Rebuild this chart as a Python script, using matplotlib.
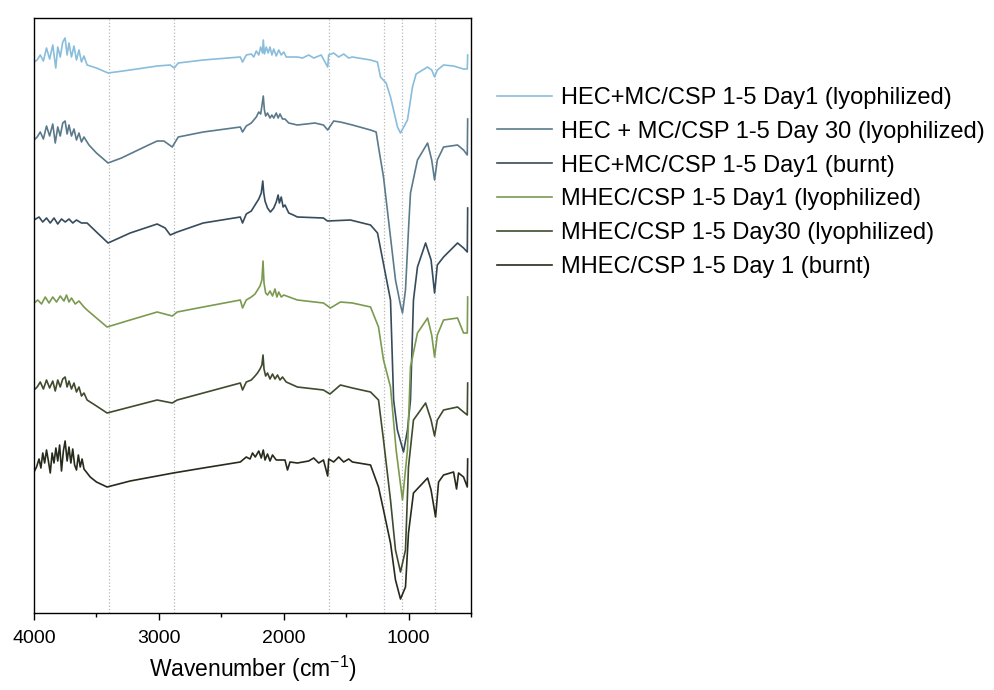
import matplotlib
matplotlib.use('Agg')
import matplotlib.pyplot as plt
from matplotlib.ticker import MultipleLocator

plt.rcParams['font.family'] = ['Liberation Sans', 'DejaVu Sans']
plt.rcParams['mathtext.fontset'] = 'custom'
plt.rcParams['mathtext.rm'] = 'Liberation Sans'
plt.rcParams['mathtext.default'] = 'regular'

# Спектри (хвильове число, інтенсивність зі зсувом, ум. од.)
labels = ['HEC+MC/CSP 1-5 Day1 (lyophilized)',
          'HEC + MC/CSP 1-5 Day 30 (lyophilized)',
          'HEC+MC/CSP 1-5 Day1 (burnt)',
          'MHEC/CSP 1-5 Day1 (lyophilized)',
          'MHEC/CSP 1-5 Day30 (lyophilized)',
          'MHEC/CSP 1-5 Day 1 (burnt)']
colors = ['#88bddc', '#5a7a8c', '#364b5b', '#7b9a50', '#3f4b2c', '#262b1b']

wn_1 = [4000, 3975, 3950, 3925, 3900, 3875, 3850, 3826, 3810, 3790, 3770, 3751, 3735, 3720, 3700,
        3680, 3660, 3640, 3620, 3600, 3575, 3500, 3407, 3230, 3014, 2909, 2877, 2845, 2645, 2348,
        2330, 2300, 2260, 2240, 2220, 2200, 2185, 2170, 2164, 2155, 2140, 2125, 2110, 2095, 2080,
        2060, 2040, 2020, 2000, 1980, 1891, 1850, 1800, 1760, 1700, 1648, 1640, 1600, 1560, 1520,
        1480, 1450, 1305, 1250, 1225, 1180, 1145, 1089, 1065, 1009, 969, 940, 848, 815, 792,
        770, 720, 640, 560, 530, 527]
t_1 = [551, 553, 558, 552, 565, 554, 568, 545, 566, 556, 571, 575, 558, 570, 556,
       567, 553, 563, 551, 557, 548, 545, 540, 543, 547, 548, 545, 550, 553, 556,
       551, 558, 559, 556, 562, 558, 566, 560, 573, 559, 566, 560, 566, 558, 564,
       557, 563, 558, 561, 556, 556, 555, 558, 555, 558, 546, 558, 560, 556, 559,
       555, 556, 553, 551, 536, 530, 516, 486, 480, 493, 526, 539, 546, 543, 536,
       543, 548, 547, 544, 544, 558]

wn_2 = [4000, 3975, 3950, 3925, 3900, 3875, 3850, 3830, 3810, 3790, 3770, 3751, 3735, 3720, 3700,
        3680, 3660, 3640, 3620, 3600, 3560, 3500, 3407, 3300, 3200, 3100, 3014, 2960, 2893, 2845,
        2645, 2348, 2330, 2300, 2260, 2240, 2220, 2200, 2185, 2175, 2164, 2155, 2145, 2130, 2110,
        2095, 2080, 2060, 2045, 2030, 2010, 1990, 1960, 1891, 1750, 1682, 1648, 1600, 1546, 1450,
        1305, 1260, 1241, 1201, 1161, 1105, 1065, 1049, 1025, 1001, 985, 929, 848, 815, 792,
        770, 720, 608, 560, 530, 527]
t_2 = [473, 476, 481, 474, 487, 477, 489, 470, 486, 477, 490, 492, 479, 488, 477,
       484, 473, 480, 471, 476, 468, 460, 450, 455, 461, 467, 472, 472, 466, 476,
       481, 486, 481, 487, 490, 493, 496, 501, 499, 507, 517, 503, 497, 500, 495,
       498, 495, 500, 495, 499, 494, 494, 490, 488, 490, 488, 483, 492, 491, 488,
       483, 481, 466, 436, 393, 333, 308, 300, 323, 383, 420, 453, 470, 453, 433,
       453, 466, 468, 463, 458, 494]

wn_3 = [4000, 3960, 3930, 3900, 3870, 3840, 3810, 3780, 3750, 3720, 3690, 3660, 3620, 3575, 3500,
        3407, 3230, 3014, 2950, 2909, 2853, 2645, 2348, 2330, 2300, 2260, 2230, 2200, 2180, 2168,
        2160, 2150, 2130, 2107, 2080, 2060, 2045, 2035, 2020, 2005, 1990, 1960, 1923, 1891, 1682,
        1650, 1466, 1305, 1249, 1145, 1120, 1090, 1041, 1009, 985, 961, 929, 864, 820, 792,
        770, 720, 608, 560, 530, 527]
t_3 = [393, 396, 391, 395, 390, 395, 389, 394, 391, 394, 390, 393, 390, 390, 381,
       370, 380, 389, 385, 378, 381, 390, 396, 390, 399, 402, 408, 414, 420, 432,
       420, 412, 405, 401, 405, 411, 418, 410, 416, 406, 408, 400, 398, 396, 395,
       392, 393, 388, 380, 313, 213, 183, 161, 183, 213, 313, 346, 370, 353, 320,
       348, 356, 370, 365, 361, 405]

wn_4 = [4000, 3970, 3940, 3910, 3880, 3850, 3820, 3790, 3760, 3740, 3720, 3700, 3670, 3640, 3600,
        3575, 3500, 3415, 3230, 3014, 2893, 2853, 2645, 2348, 2330, 2300, 2260, 2230, 2210, 2190,
        2175, 2166, 2158, 2145, 2130, 2110, 2090, 2070, 2055, 2040, 2020, 2000, 1891, 1682, 1626,
        1546, 1450, 1305, 1241, 1201, 1145, 1100, 1049, 1009, 985, 929, 848, 815, 792, 770,
        720, 608, 560, 530, 527]
t_4 = [310, 313, 309, 316, 310, 316, 311, 317, 312, 318, 311, 315, 309, 312, 306,
       303, 295, 286, 293, 301, 297, 301, 306, 313, 305, 313, 316, 319, 323, 327,
       333, 352, 330, 320, 318, 322, 317, 324, 316, 321, 316, 318, 313, 310, 305,
       311, 310, 306, 286, 253, 226, 163, 113, 163, 246, 280, 295, 278, 256, 278,
       293, 295, 280, 280, 316]

wn_5 = [4000, 3975, 3950, 3925, 3900, 3875, 3850, 3830, 3810, 3790, 3770, 3751, 3735, 3720, 3700,
        3680, 3660, 3640, 3620, 3600, 3575, 3500, 3415, 3230, 3014, 2893, 2853, 2645, 2348, 2330,
        2300, 2260, 2230, 2210, 2190, 2175, 2166, 2158, 2145, 2130, 2110, 2090, 2070, 2050, 2030,
        2010, 1980, 1891, 1682, 1630, 1546, 1450, 1305, 1241, 1201, 1145, 1105, 1065, 1025, 1001,
        961, 864, 820, 792, 770, 720, 608, 560, 530, 527]
t_5 = [223, 226, 231, 224, 233, 225, 232, 222, 233, 226, 234, 236, 226, 232, 224,
       230, 221, 226, 217, 220, 213, 207, 200, 206, 213, 210, 213, 220, 230, 223,
       231, 233, 237, 240, 244, 248, 258, 244, 237, 240, 234, 239, 234, 238, 233,
       236, 231, 226, 223, 219, 228, 225, 221, 213, 173, 113, 63, 41, 63, 146,
       193, 210, 193, 177, 193, 203, 206, 201, 198, 230]

wn_6 = [4000, 3980, 3960, 3945, 3930, 3915, 3900, 3885, 3870, 3855, 3840, 3825, 3810, 3795, 3780,
        3765, 3751, 3735, 3720, 3705, 3690, 3675, 3660, 3645, 3630, 3615, 3600, 3575, 3550, 3500,
        3415, 3230, 3014, 2885, 2645, 2348, 2300, 2270, 2250, 2228, 2200, 2180, 2164, 2150, 2130,
        2110, 2090, 2060, 1990, 1970, 1950, 1891, 1800, 1760, 1720, 1682, 1648, 1640, 1600, 1560,
        1520, 1480, 1450, 1305, 1241, 1201, 1145, 1105, 1065, 1025, 1001, 961, 848, 820, 784,
        760, 720, 640, 616, 600, 560, 530, 527]
t_6 = [141, 146, 154, 145, 160, 150, 163, 152, 140, 160, 150, 165, 152, 168, 142,
       162, 172, 152, 166, 150, 164, 148, 143, 158, 146, 154, 144, 140, 136, 131,
       126, 132, 137, 140, 145, 151, 156, 154, 160, 156, 162, 155, 163, 153, 159,
       152, 158, 153, 153, 143, 151, 150, 152, 155, 150, 153, 137, 154, 151, 156,
       151, 154, 151, 148, 126, 103, 70, 33, 14, 26, 80, 120, 135, 123, 96,
       131, 138, 141, 124, 140, 136, 126, 154]

spectra = [(wn_1, t_1), (wn_2, t_2), (wn_3, t_3), (wn_4, t_4), (wn_5, t_5), (wn_6, t_6)]
marker_lines = [3400, 2880, 1640, 1200, 1050, 790]

fig = plt.figure(figsize=(9.95, 6.9), dpi=100)
ax = fig.add_axes([0.0342, 0.1116, 0.4392, 0.8623])

for x in marker_lines:
    ax.axvline(x, color='#b8b8b8', ls=':', lw=0.9, zorder=0)

for (wn, t), c, lab in zip(spectra, colors, labels):
    ax.plot(wn, t, color=c, lw=1.2, label=lab)

ax.set_xlim(4000, 500)
ax.set_ylim(0, 595)
ax.set_yticks([])
ax.xaxis.set_major_locator(MultipleLocator(1000))
ax.xaxis.set_minor_locator(MultipleLocator(500))
ax.tick_params(axis='x', which='major', direction='out', length=5, width=1, labelsize=14, pad=7)
ax.tick_params(axis='x', which='minor', direction='out', length=3, width=1)
for s in ax.spines.values():
    s.set_linewidth(1.0)
ax.set_xlabel('Wavenumber (cm$^{-1}$)', fontsize=16.5, labelpad=5)

fig.legend(loc='upper left', bbox_to_anchor=(0.4995, 0.874), frameon=False, fontsize=17,
           handlelength=2.35, handletextpad=0.35, labelspacing=0.5, borderpad=0, borderaxespad=0)

fig.savefig('out.png', dpi=100)
